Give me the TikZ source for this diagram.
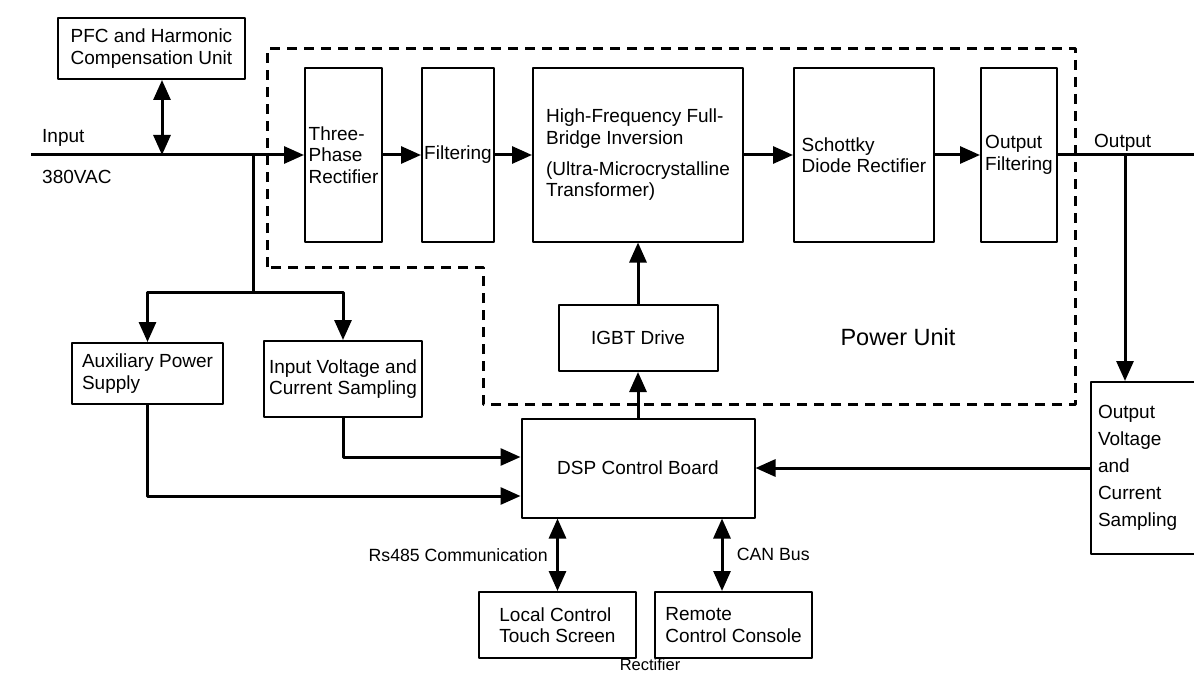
\documentclass[tikz,border=0pt]{standalone}
\usepackage{fontspec}
\setmainfont{Liberation Sans}
\usetikzlibrary{arrows.meta}
\tikzset{
	blk/.style={draw, line width=2pt, align=left, inner sep=0pt},
	con/.style={line width=3pt},
	lbl/.style={font=\fontsize{17.7}{20}\selectfont}
}
\begin{document}
\begin{tikzpicture}[x=1pt, y=-1pt, font=\fontsize{19}{21.5}\selectfont, line join=round, >={Triangle[length=20pt,width=17pt]}]
				\useasboundingbox (0,0) rectangle (1194,674);
				\draw[line width=3pt, dash pattern=on 10pt off 7pt] (267,267)--(267,49)--(1075,49)--(1075,404)--(483,404)--(483,267)--cycle;
				\node[blk, minimum width=187, minimum height=61] (pfc) at (151.5,48.5) {PFC and Harmonic\\Compensation Unit};
				\node[blk, minimum width=77, minimum height=173] (tpr) at (343.5,155) {Three-\\Phase\\Rectifier};
				\node[blk, minimum width=72, minimum height=173] (filt) at (458,155) {Filtering};
				\node[blk, minimum width=210, minimum height=173] (hf) at (638,155) {High-Frequency Full-\\Bridge Inversion\\[9.5pt](Ultra-Microcrystalline\\Transformer)};
				\node[blk, minimum width=140, minimum height=173] (sch) at (864,155) {Schottky\\Diode Rectifier};
				\node[blk, minimum width=76, minimum height=173] (ofilt) at (1019,155) {Output\\Filtering};
				\node[blk, minimum width=159, minimum height=66] (igbt) at (638,338) {IGBT Drive};
				\node[blk, minimum width=233, minimum height=99] (dsp) at (638,468) {DSP Control Board};
				\node[blk, minimum width=151, minimum height=61] (aux) at (147.5,373.5) {Auxiliary Power\\Supply};
				\node[blk, minimum width=158, minimum height=76] (ivs) at (343,379) {Input Voltage and\\Current Sampling};
				\node[blk, minimum height=172, text width=93, inner xsep=7, font=\fontsize{19}{27}\selectfont] (osamp) at (1144.5,468) {Output\\Voltage\\and\\Current\\Sampling};
				\node[blk, minimum width=157, minimum height=66] (local) at (557.5,625) {Local Control\\Touch Screen};
				\node[blk, minimum width=157, minimum height=66] (remote) at (733.5,625) {Remote\\Control Console};
				\node[font=\fontsize{23.5}{26}\selectfont] (pu) at (898,337) {Power Unit};
				\node[anchor=west, inner sep=0pt] (inlbl) at (42,138) {Input};
				\node[anchor=west, inner sep=0pt] (vac) at (42,177) {380VAC};
				\node[anchor=west, inner sep=0pt] (outlbl) at (1094,143) {Output};
				\node[font=\fontsize{16.5}{18}\selectfont, inner sep=0pt, anchor=base] (rect) at (650,670.2) {Rectifier};
				\coordinate (in) at (31,155);
				\coordinate (tapA) at (162,155);
				\coordinate (tapJ) at (253,155);
				\coordinate (j) at (253,292);
				\coordinate (tapB) at (1125,155);
				\coordinate (out) at (1194,155);
				\draw[con,->] (in)--(tpr.west);
				\draw[con,<->] (pfc.south -| tapA)--(tapA);
				\draw[con] (tapJ)--(j);
				\draw[con,->] (j) -| (aux.north);
				\draw[con,->] (j) -| (ivs.north);
				\draw[con,->] (tpr.east)--(filt.west);
				\draw[con,->] (filt.east)--(hf.west);
				\draw[con,->] (hf.east)--(sch.west);
				\draw[con,->] (sch.east)--(ofilt.west);
				\draw[con] (ofilt.east)--(out);
				\draw[con,->] (tapB)--(tapB |- osamp.north);
				\draw[con,->] (osamp.west)--(dsp.east);
				\draw[con,->] (ivs.south) |- ([yshift=11pt]dsp.west);
				\draw[con,->] (aux.south) |- ([yshift=-28pt]dsp.west);
				\draw[con,->] (dsp.north)--(igbt.south);
				\draw[con,->] (igbt.north)--(hf.south);
				\draw[con,<->] (local.north)--(local.north |- dsp.south) node[midway, left, lbl, xshift=-5pt] (rs) {Rs485 Communication};
				\draw[con,<->] ([xshift=-11.5pt]remote.north)--([xshift=-11.5pt]remote.north |- dsp.south) node[midway, right, lbl, xshift=10pt] (can) {CAN Bus};
			\end{tikzpicture}
\end{document}
